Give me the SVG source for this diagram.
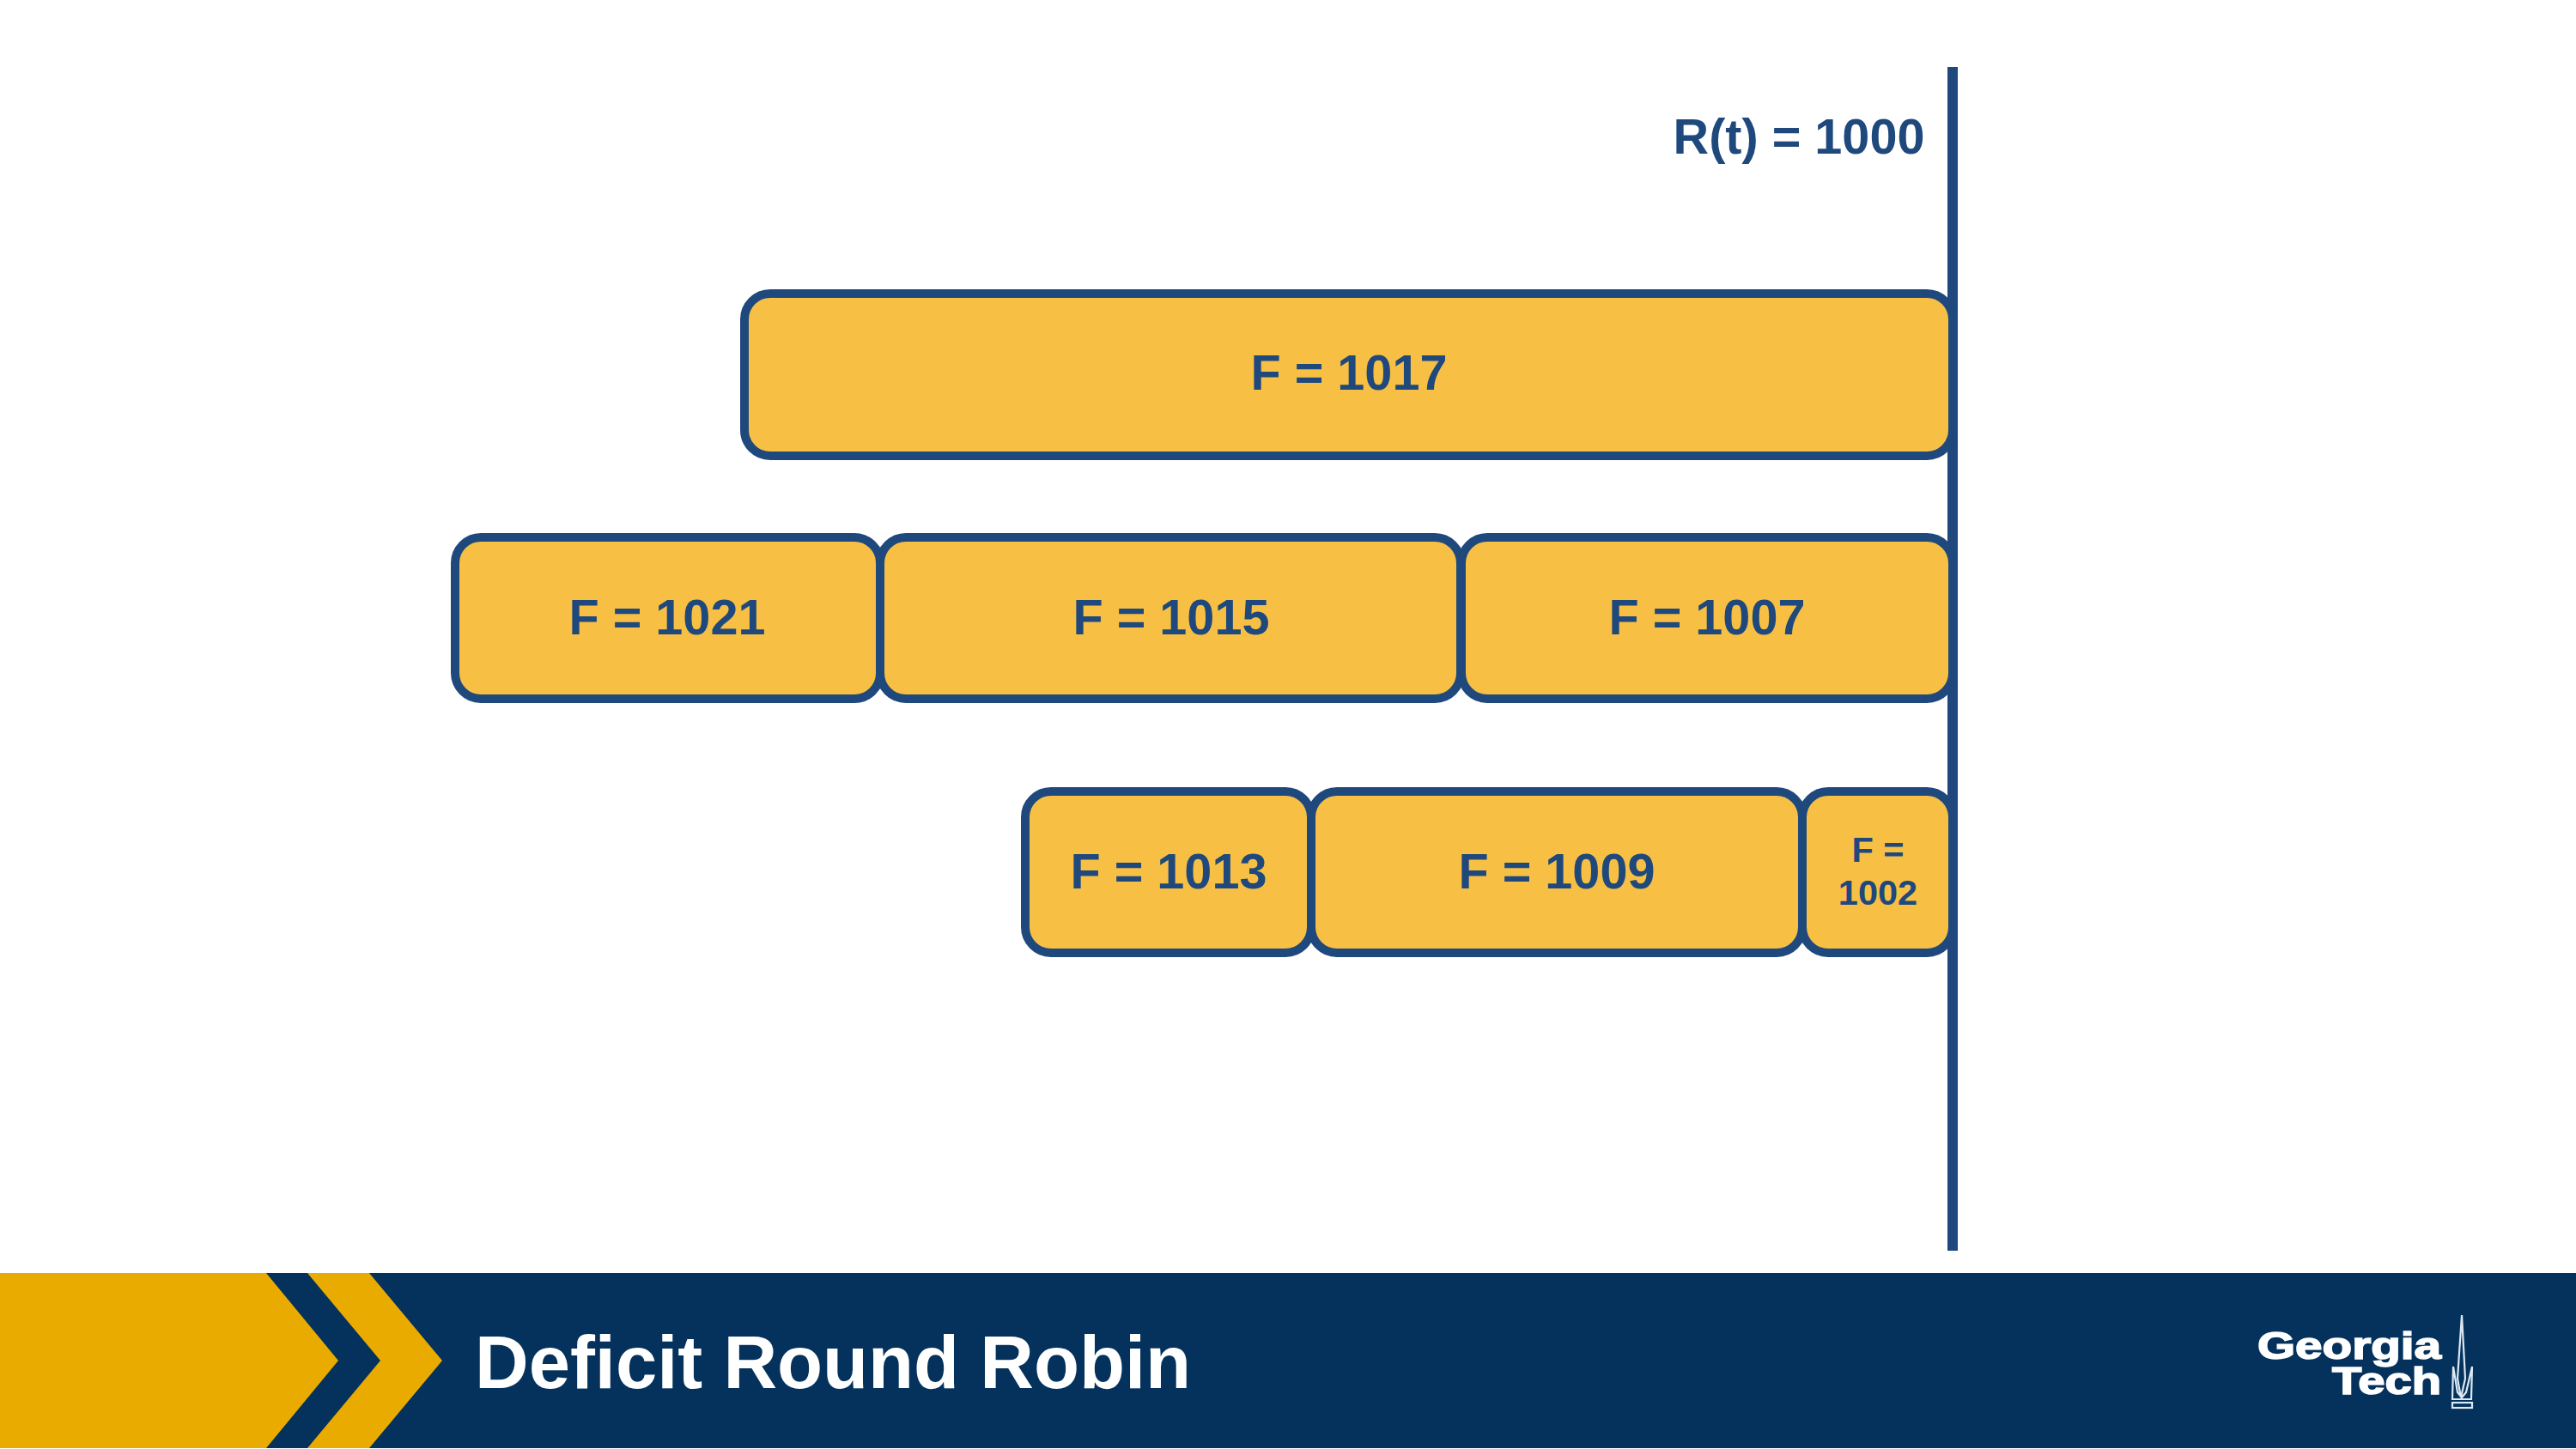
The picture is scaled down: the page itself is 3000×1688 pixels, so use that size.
<svg xmlns="http://www.w3.org/2000/svg" width="3000" height="1688" viewBox="0 0 3000 1688">
<style>
.box{fill:#f7c044;stroke:#1f497d;stroke-width:10}
.lbl{font-family:"Liberation Sans",Arial,sans-serif;font-weight:700;fill:#1f497d;font-size:57.6px;text-anchor:middle}
.sm{font-size:41.5px}
.logo{font-family:"Liberation Sans",Arial,sans-serif;font-weight:700;fill:#fff;stroke:#fff;stroke-width:1.6;font-size:45px}
.tower{fill:none;stroke:#dbe8f2;stroke-width:2.2}
</style>
<rect width="3000" height="1688" fill="#fff"/>
<g id="timeline"><rect x="2268" y="78" width="12" height="1379" fill="#1f497d"/></g>
<g id="rt"><text class="lbl" x="2095" y="179">R(t) = 1000</text></g>
<g id="f1017"><rect class="box" x="867" y="342" width="1407" height="189" rx="30"/><text class="lbl" x="1571" y="454">F = 1017</text></g>
<g id="f1021"><rect class="box" x="530" y="626" width="495" height="188" rx="30"/><text class="lbl" x="777" y="739">F = 1021</text></g>
<g id="f1015"><rect class="box" x="1025" y="626" width="676" height="188" rx="30"/><text class="lbl" x="1364" y="739">F = 1015</text></g>
<g id="f1007"><rect class="box" x="1702" y="626" width="572" height="188" rx="30"/><text class="lbl" x="1988" y="739">F = 1007</text></g>
<g id="f1013"><rect class="box" x="1194" y="922" width="333" height="188" rx="30"/><text class="lbl" x="1361" y="1035">F = 1013</text></g>
<g id="f1009"><rect class="box" x="1527" y="922" width="572" height="188" rx="30"/><text class="lbl" x="1813" y="1035">F = 1009</text></g>
<g id="f1002"><rect class="box" x="2099" y="922" width="175" height="188" rx="30"/><text class="lbl sm" x="2187" y="1004">F =</text><text class="lbl sm" x="2187" y="1054">1002</text></g>
<g id="banner">
<rect x="0" y="1483" width="3000" height="204" fill="#04325c"/>
<polygon points="0,1483 310,1483 394,1585 310,1687 0,1687" fill="#eaab00"/>
<polygon points="358,1483 430,1483 515,1585 430,1687 358,1687 443,1585" fill="#eaab00"/>
<text x="553" y="1617" font-family="'Liberation Sans',Arial,sans-serif" font-weight="700" font-size="86.8" fill="#fff">Deficit Round Robin</text>
</g>
<g id="logo">
<text class="logo" x="2629" y="1583" textLength="214" lengthAdjust="spacingAndGlyphs">Georgia</text>
<text class="logo" x="2716" y="1624" textLength="127" lengthAdjust="spacingAndGlyphs">Tech</text>
<path class="tower" d="M2867 1532L2862 1606L2866 1628L2871 1606ZM2857 1592L2856 1630H2878L2879 1592L2872 1622L2867 1628L2862 1622Z"/>
<rect class="tower" x="2856" y="1634" width="23" height="6"/>
</g>
</svg>
